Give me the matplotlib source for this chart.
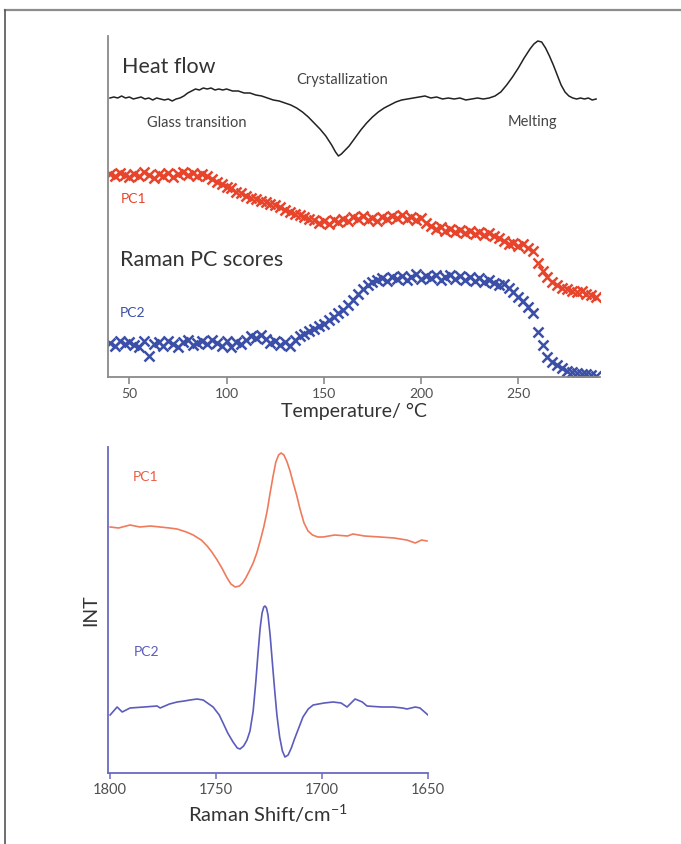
import matplotlib
matplotlib.use("Agg")
import matplotlib.pyplot as plt
from matplotlib.lines import Line2D

plt.rcParams["font.family"] = ["Lato", "DejaVu Sans"]

# --- top panel: DSC heat flow + Raman PC scores vs temperature ---
heat_T = [40, 42, 44, 46, 48, 50, 52, 54, 56, 58, 60, 62, 64, 66, 68, 70,
          72, 74, 76, 78, 80, 82, 84, 86, 88, 90, 92, 94, 96, 98, 100,
          103, 106, 109, 112, 115, 118, 121, 124, 127, 130, 133, 136, 139,
          142, 145, 148, 151, 154,
          156, 157.5, 159, 161, 163,
          166, 169, 172, 175, 178, 181, 184, 187, 190, 193, 196, 199, 202,
          205, 208, 211, 214, 217, 220, 223, 226, 229, 232, 235, 238,
          241, 244, 247, 250, 253, 256,
          258, 260, 262, 264, 266, 268, 270, 272, 274, 276, 278, 280, 282,
          284, 286, 288, 290]
heat_flow = [279, 280, 279, 281, 279, 280, 278, 279, 280, 278, 279, 277, 279, 278, 277, 278,
             276, 278, 279, 281, 284, 286, 288, 287, 289, 288, 289, 287, 288, 287, 288,
             286, 286, 284, 284, 282, 281, 279, 277, 276, 274, 272, 269, 265,
             260, 254, 248, 241, 232,
             225, 221, 223, 227, 231,
             239, 247, 254, 260, 265, 269, 272, 275, 277, 278, 279, 280, 281,
             279, 280, 278, 279, 278, 279, 277, 278, 279, 278, 279, 281,
             285, 292, 300, 309, 319, 328,
             333, 336, 335, 329, 321, 312, 302, 292, 285, 281, 279, 278, 279,
             278, 279, 277, 278]

temps = [40, 42.5, 45, 47.5, 50, 52.5, 55, 57.5, 60, 62.5,
         65, 67.5, 70, 72.5, 75, 77.5, 80, 82.5, 85, 87.5,
         90, 92.5, 95, 97.5, 100, 102.5, 105, 107.5, 110, 112.5,
         115, 117.5, 120, 122.5, 125, 127.5, 130, 132.5, 135, 137.5,
         140, 142.5, 145, 147.5, 150, 152.5, 155, 157.5, 160, 162.5,
         165, 167.5, 170, 172.5, 175, 177.5, 180, 182.5, 185, 187.5,
         190, 192.5, 195, 197.5, 200, 202.5, 205, 207.5, 210, 212.5,
         215, 217.5, 220, 222.5, 225, 227.5, 230, 232.5, 235, 237.5,
         240, 242.5, 245, 247.5, 250, 252.5, 255, 257.5, 260, 262.5,
         265, 267.5, 270, 272.5, 275, 277.5, 280, 282.5, 285, 287.5,
         290]
pc1_score = [203, 201, 204, 202, 200, 203, 201, 205, 202, 199,
             203, 201, 204, 200, 203, 205, 202, 204, 201, 203,
             201, 198, 195, 193, 190, 189, 185, 184, 181, 179,
             178, 176, 175, 173, 172, 170, 167, 165, 163, 162,
             160, 158, 157, 154, 156, 153, 157, 155, 158, 156,
             160, 158, 161, 157, 159, 156, 160, 158, 161, 159,
             162, 158, 160, 157, 159, 154, 151, 148, 150, 146,
             148, 145, 147, 144, 146, 143, 145, 142, 144, 141,
             139, 136, 133, 134, 131, 133, 129, 126, 114, 106,
             100, 95, 92, 89, 88, 86, 85, 86, 83, 82,
             80]
pc2_score = [34, 31, 36, 33, 35, 32, 30, 36, 21, 33,
             35, 31, 36, 33, 30, 35, 37, 32, 34, 36,
             33, 37, 34, 31, 36, 30, 35, 33, 37, 41,
             39, 42, 38, 34, 36, 32, 35, 31, 37, 41,
             43, 46, 48, 51, 53, 57, 60, 64, 67, 72,
             77, 83, 88, 92, 95, 97, 99, 96, 100, 98,
             101, 97, 100, 103, 98, 101, 99, 102, 97, 100,
             102, 98, 101, 97, 100, 96, 99, 95, 97, 94,
             92, 93, 89, 85, 80, 76, 70, 64, 45, 32,
             20, 15, 12, 9, 6, 5, 4, 3, 3, 2,
             1]
temp_ticks = [50, 100, 150, 200, 250]

# --- bottom panel: PC loadings vs Raman shift ---
shift_pc1 = [1800, 1796, 1790.6, 1786, 1781, 1776.4, 1772, 1768.4,
             1764, 1760.8, 1757, 1754.2, 1752, 1749.5, 1747, 1744.8,
             1743, 1741, 1739, 1737.5, 1736, 1734.3, 1732.5, 1730.8,
             1729.2, 1727.5, 1725.9, 1724.5, 1723.1, 1721.8, 1720.5, 1719.3,
             1718, 1716.5, 1715.1, 1713.6, 1712, 1710.4, 1708.5, 1706.6,
             1704.5, 1702, 1699.5, 1694, 1688, 1685.4, 1680,
             1672.6, 1666, 1660, 1656, 1653, 1650.5]
load_pc1 = [246, 245, 248, 246, 247, 246, 245, 244,
            241, 238, 233, 227, 221, 213, 204, 195,
            189, 186, 187, 190, 195, 202, 210, 220,
            232, 246, 262, 280, 297, 311, 318, 320,
            318, 311, 302, 290, 278, 264, 250, 242,
            238, 236, 236, 238, 237, 239, 237,
            236, 235, 233, 230, 233, 232]
shift_pc2 = [1800, 1796.7, 1794.3, 1790.6, 1784, 1777.8, 1776.4, 1772,
             1768.4, 1765, 1762.3, 1759, 1756.1, 1751.4, 1748.5, 1746.7,
             1744.5, 1742, 1740, 1738.7, 1737, 1735.4, 1734, 1732.5,
             1731.3, 1730.2, 1729.2, 1728.3, 1727.5, 1726.9, 1726.2, 1725.5,
             1724.5, 1723.5, 1722.4, 1721.3, 1720, 1718.7, 1717.5, 1716,
             1714.5, 1713, 1711, 1709, 1706.5, 1704.2, 1699, 1694.8,
             1691, 1688.2, 1684.4, 1681, 1678.8, 1672, 1666.5, 1662,
             1659.9, 1656, 1653.8, 1650]
load_pc2 = [58, 66, 61, 65, 66, 67, 65, 69,
            71, 72, 73, 74, 73, 66, 58, 50,
            40, 31, 25, 24, 27, 33, 42, 62,
            90, 120, 145, 160, 166, 167, 165, 158,
            138, 112, 84, 58, 36, 22, 16, 18,
            25, 34, 45, 56, 64, 68, 70, 71,
            70, 66, 74, 71, 67, 66, 66, 65,
            64, 66, 65, 58]
shift_ticks = [1800, 1750, 1700, 1650]

W, H = 681, 844
fig = plt.figure(figsize=(W / 100, H / 100), dpi=100)

def fx(px):
    return px / W

def fy(py):
    return 1 - py / H

red = "#e8432b"
blue = "#3b4fa8"
red_line = "#f07a5c"
blue_line = "#5c5cbc"
gray = "#8a8a8a"

# page frame (top + left rule)
fig.add_artist(Line2D([fx(5), 1], [fy(10), fy(10)], color="#8c8c8c", lw=1.6))
fig.add_artist(Line2D([fx(5), fx(5)], [fy(10), 0], color="#555555", lw=1.2))

# top axes
ax1 = fig.add_axes([fx(108), fy(377), fx(600) - fx(108), fy(36) - fy(377)])
ax1.plot(heat_T, heat_flow, color="#222222", lw=1.1)
ax1.plot(temps, pc1_score, "x", color=red, ms=6.5, mew=1.8)
ax1.plot(temps, pc2_score, "x", color=blue, ms=6.5, mew=1.8)
ax1.set_xlim(39, 292)
ax1.set_ylim(0, 341)
ax1.set_yticks([])
ax1.set_xticks(temp_ticks)
for s in ["top", "right"]:
    ax1.spines[s].set_visible(False)
for s in ["left", "bottom"]:
    ax1.spines[s].set_color(gray)
    ax1.spines[s].set_linewidth(1.3)
ax1.tick_params(axis="x", direction="out", length=5, width=1.2, color=gray,
                labelsize=10, labelcolor="#505050", pad=3)
ax1.set_xlabel("Temperature/ °C", fontsize=14, color="#333333", labelpad=2)

fig.text(fx(122), fy(67), "Heat flow", fontsize=15.5, color="#333333", va="center")
fig.text(fx(342), fy(80), "Crystallization", fontsize=10.5, color="#444444",
         va="center", ha="center")
fig.text(fx(197), fy(123), "Glass transition", fontsize=10.5, color="#444444",
         va="center", ha="center")
fig.text(fx(532), fy(122), "Melting", fontsize=10.5, color="#444444",
         va="center", ha="center")
fig.text(fx(121), fy(199), "PC1", fontsize=10, color=red, va="center")
fig.text(fx(120), fy(260), "Raman PC scores", fontsize=15.5, color="#333333", va="center")
fig.text(fx(120), fy(313), "PC2", fontsize=10, color=blue, va="center")

# bottom axes
ax2 = fig.add_axes([fx(108), fy(773), fx(428) - fx(108), fy(447) - fy(773)])
ax2.plot(shift_pc1, load_pc1, color=red_line, lw=1.2)
ax2.plot(shift_pc2, load_pc2, color=blue_line, lw=1.2)
ax2.set_xlim(1801, 1650)
ax2.set_ylim(0, 326)
ax2.set_yticks([])
ax2.set_xticks(shift_ticks)
for s in ["top", "right"]:
    ax2.spines[s].set_visible(False)
for s in ["left", "bottom"]:
    ax2.spines[s].set_color("#6a6ac4")
    ax2.spines[s].set_linewidth(1.3)
ax2.tick_params(axis="x", direction="out", length=4, width=1.1, color="#6a6ac4",
                labelsize=10.5, labelcolor="#505050", pad=3)
ax2.set_xlabel("Raman Shift/cm$^{\\mathregular{-1}}$", fontsize=14.5, color="#333333",
               labelpad=4)
ax2.set_ylabel("INT", fontsize=14, color="#333333", labelpad=6)

fig.text(fx(133), fy(477), "PC1", fontsize=10, color="#ec5a44", va="center")
fig.text(fx(134), fy(652), "PC2", fontsize=10, color=blue_line, va="center")

fig.savefig("out.png", dpi=100)
